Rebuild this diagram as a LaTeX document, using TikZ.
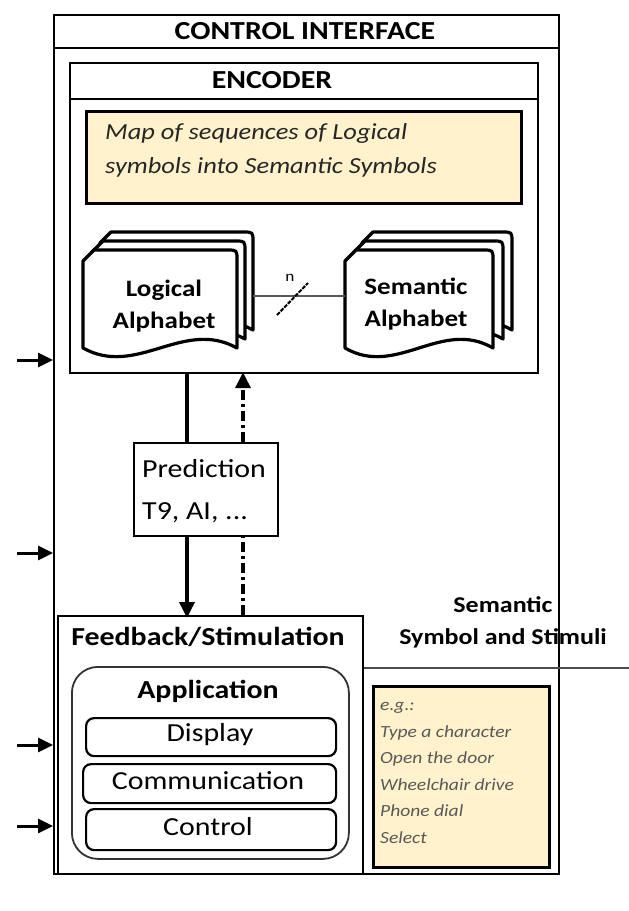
\documentclass[tikz,border=0pt]{standalone}
\usepackage{fontspec}
\setmainfont[FakeStretch=1.15]{Carlito}
\usetikzlibrary{arrows.meta}
\definecolor{cream}{HTML}{FFF2CC}
\newcommand\myfs[2]{\fontsize{#1}{#2}\selectfont}
\newcommand\mydoc[4]{%
  \filldraw[docline] (#1,#4) -- (#1,#2+11) -- (#1+11,#2) -- (#3-10,#2)
    .. controls (#3,#2) .. (#3,#2+10) -- (#3,#4)
    .. controls ({#3-0.35*(#3-#1)},#4-30) and ({#1+0.35*(#3-#1)},#4+30) .. (#1,#4) -- cycle;}
\tikzset{
  box/.style={draw, line width=2.2pt, inner sep=0pt, anchor=north west},
  docline/.style={draw=black, fill=white, line width=3.2pt, line join=round},
  rbox/.style={draw, line width=2.2pt, rounded corners=8pt, inner sep=0pt, anchor=north west, font=\myfs{26}{30}},
  inarrow/.style={line width=3pt, -{Triangle[length=15pt,width=14pt]}},
  flow/.style={line width=3.5pt},
  ddot/.style={line width=3.5pt, dash pattern=on 10pt off 4pt on 3pt off 4pt},
}
\begin{document}
\begin{tikzpicture}[x=1pt,y=-1pt]
\useasboundingbox (0,0) rectangle (629,911);
% outer box
\node[box, minimum width=505, minimum height=859] (ci) at (53,14) {};
\draw[line width=2.2pt] (53,48) -- (558,48);
\node[font=\bfseries\myfs{26}{30}] (citext) at (305,31) {CONTROL INTERFACE};
% encoder
\node[box, minimum width=468, minimum height=310] (enc) at (69,62) {};
\draw[line width=2.2pt] (69,99) -- (537,99);
\node[font=\bfseries\myfs{26}{30}] (enctext) at (272,80) {ENCODER};
\node[box, fill=cream, line width=2.6pt, minimum width=435, minimum height=92] (map) at (85,110) {};
\node[anchor=west, align=left, inner sep=0pt, text=black!85, font=\itshape\myfs{23}{34}] (maptext) at (105,150)
  {Map of sequences of Logical\\symbols into Semantic Symbols};
% documents
\mydoc{100}{232}{253}{330}
\mydoc{92}{241}{245}{339}
\mydoc{83}{250}{237}{348}
\mydoc{362}{232}{512}{330}
\mydoc{354}{241}{503}{339}
\mydoc{345}{250}{493}{348}
\node[align=center, inner sep=0pt, font=\bfseries\myfs{23.5}{32}] (logical) at (164,306) {Logical\\Alphabet};
\node[align=center, inner sep=0pt, font=\bfseries\myfs{23.5}{32}] (semantic) at (416,304) {Semantic\\Alphabet};
\coordinate (logR) at (253,296);
\coordinate (semL) at (345,296);
\draw[line width=2.4pt, black!65] (logR) -- (semL);
\coordinate (sl1) at (277,315);
\coordinate (sl2) at (308,283);
\draw[line width=2pt, dash pattern=on 4pt off 1.2pt] (sl1) -- (sl2);
\node[font=\myfs{15}{16}, inner sep=0pt] (nlab) at (290,278) {n};
% left arrows
\foreach \yy/\nm in {360/a1,553/a2,745/a3,826/a4}{
  \coordinate (\nm) at (17,\yy);
  \draw[inarrow] (\nm) -- (\nm -| ci.west);
}
% prediction
\node[box, minimum width=144, minimum height=93] (pred) at (133,442) {};
\node[anchor=west, align=left, inner sep=0pt, font=\myfs{26}{42}] (predtext) at (142,491) {Prediction\\T9, AI, ...};
% feedback
\node[box, minimum width=305, minimum height=258] (fb) at (57,615) {};
\node[font=\bfseries\myfs{26}{30}] (fbtext) at (208,637) {Feedback/Stimulation};
\node[box, line width=1.8pt, draw=black!80, rounded corners=26pt, minimum width=277, minimum height=192] (app) at (71,666) {};
\node[font=\bfseries\myfs{26}{30}] (apptext) at (208,691) {Application};
\node[rbox, minimum width=250, minimum height=38] (disp) at (85,717) {};
\node[font=\myfs{26}{30}] (disptext) at (210,735) {Display};
\node[rbox, minimum width=253, minimum height=39] (comm) at (82,763) {};
\node[font=\myfs{26}{30}] (commtext) at (208,781) {Communication};
\node[rbox, minimum width=250, minimum height=41] (ctrl) at (85,808) {};
\node[font=\myfs{26}{30}] (ctrltext) at (208,827) {Control};
% vertical flows
\coordinate (sx) at (187,0);
\coordinate (dx) at (243,0);
\draw[flow] (enc.south -| sx) -- (pred.north -| sx);
\draw[flow, -{Triangle[length=16pt,width=15pt]}] (pred.south -| sx) -- ([yshift=-3pt]fb.north -| sx);
\draw[ddot] (fb.north -| dx) -- (pred.south -| dx);
\draw[ddot, -{Triangle[length=16pt,width=15pt]}] (pred.north -| dx) -- ([yshift=2pt]enc.south -| dx);
% semantic symbol output
\coordinate (outR) at (629,668);
\draw[line width=2.2pt, black!70] (fb.east |- outR) -- (outR);
\node[align=center, inner sep=0pt, font=\bfseries\myfs{22.6}{32}] (semout) at (503,622) {Semantic\\Symbol and Stimuli};
% examples
\node[box, fill=cream, line width=2.6pt, minimum width=176, minimum height=181] (ex) at (372,685) {};
\node[anchor=west, align=left, inner sep=0pt, text=black!65, font=\itshape\myfs{17}{26.6}] (extext) at (380,773)
  {e.g.:\\Type a character\\Open the door\\Wheelchair drive\\Phone dial\\Select};
\end{tikzpicture}
\end{document}
